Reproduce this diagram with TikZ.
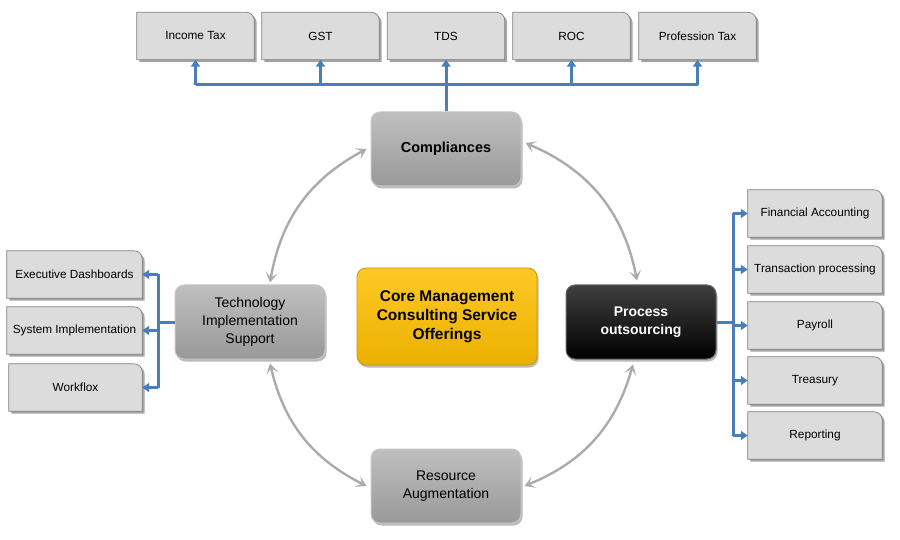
\documentclass[tikz,border=0pt]{standalone}
\usepackage{fontspec}
\setmainfont{Liberation Sans}
\usetikzlibrary{arrows.meta,shadows,backgrounds,calc}
\definecolor{bluel}{HTML}{4A7EBB}
\definecolor{tabfill}{HTML}{DCDCDC}
\definecolor{tabedge}{HTML}{808080}
\definecolor{arcgray}{HTML}{ABABAB}
\definecolor{gold}{HTML}{FFC000}
\newcommand{\tabbox}[5]{%
  \node[tab, minimum width=#4] (#1) at (#2,-#3) {#5};
  \begin{scope}[on background layer]
    \draw[tabshape] (#1.south west) -- (#1.north west) -- ([xshift=-8pt]#1.north east)
      arc[start angle=90,end angle=0,radius=8pt] -- (#1.south east) -- cycle;
  \end{scope}}
\begin{document}
\begin{tikzpicture}[x=1pt,y=1pt,
  tab/.style={minimum height=47pt, inner sep=2pt, font=\fontsize{11.8}{13}\selectfont},
  tabshape/.style={fill=tabfill, draw=tabedge, line width=0.7pt,
    drop shadow={shadow xshift=2.5pt, shadow yshift=-2.5pt, opacity=0.7, fill=black!50}},
  mainbox/.style={rounded corners=9pt, minimum width=150pt, minimum height=74pt, align=center,
    drop shadow={shadow xshift=1.5pt, shadow yshift=-2.5pt, opacity=0.45, fill=black!60}},
  graybox/.style={mainbox, top color=black!25, bottom color=black!40, draw=black!22, line width=1pt},
  bluearrow/.style={draw=bluel, line width=3pt, -{Triangle[length=7pt,width=9pt]}},
  blueline/.style={draw=bluel, line width=3pt},
  cyc/.style={draw=arcgray, line width=2.4pt,
    {Stealth[length=10pt,width=12pt,inset=5pt]}-{Stealth[length=10pt,width=12pt,inset=5pt]}}
]
\useasboundingbox (0,0) rectangle (900,-540);

% top boxes
\tabbox{inc}{195.5}{36}{117pt}{Income Tax}
\tabbox{gst}{320.5}{36}{117pt}{GST}
\tabbox{tds}{446}{36}{117pt}{TDS}
\tabbox{roc}{571.5}{36}{117pt}{ROC}
\tabbox{prof}{697.5}{36}{117pt}{Profession Tax}

% left boxes
\tabbox{exec}{74.5}{274.5}{135pt}{Executive Dashboards}
\tabbox{sys}{74.5}{330.5}{135pt}{System Implementation}
\tabbox{work}{75.5}{387.5}{133pt}{Workflox}

% right boxes
\tabbox{fin}{815}{213.5}{134pt}{Financial Accounting}
\tabbox{trans}{815}{269.5}{134pt}{Transaction processing}
\tabbox{pay}{815}{325.5}{134pt}{Payroll}
\tabbox{treas}{815}{380.5}{134pt}{Treasury}
\tabbox{rep}{815}{435.5}{134pt}{Reporting}

% main nodes
\node[graybox, font=\fontsize{14.5}{17}\bfseries] (comp) at (446,-149) {Compliances};
\node[graybox, font=\fontsize{14}{18}\selectfont] (tech) at (250,-322) {Technology\\Implementation\\Support};
\node[graybox, font=\fontsize{14}{18}\selectfont] (res) at (446,-486) {Resource\\Augmentation};
\node[mainbox, minimum width=180pt, minimum height=97pt, top color=gold!85!white, bottom color=gold!92!black,
      draw=gold!80!black, line width=0.8pt, font=\fontsize{15.5}{19}\bfseries] (core) at (447,-316.5)
      {Core Management\\Consulting Service\\Offerings};
\node[mainbox, top color=black!75, bottom color=black, draw=black!60, line width=1pt, text=white,
      font=\fontsize{14}{18}\bfseries] (proc) at (641,-322) {Process\\outsourcing};

% blue connectors: top
\coordinate (tbus) at (0,-85);
\draw[blueline] (comp.north) -- (comp.north |- tbus);
\draw[blueline] (inc.south |- tbus) -- (prof.south |- tbus);
\foreach \n in {inc,gst,tds,roc,prof}{\draw[bluearrow] (\n.south |- tbus) -- (\n.south);}

% left
\coordinate (lbus) at (158,0);
\draw[blueline] (tech.west) -- (tech.west -| lbus);
\draw[blueline] (exec.east -| lbus) -- (work.east -| lbus);
\foreach \n in {exec,sys,work}{\draw[bluearrow] (\n.east -| lbus) -- (\n.east);}

% right
\coordinate (rbus) at (733,0);
\draw[blueline] (proc.east) -- (proc.east -| rbus);
\draw[blueline] (fin.west -| rbus) -- (rep.west -| rbus);
\foreach \n in {fin,trans,pay,treas,rep}{\draw[bluearrow] (\n.west -| rbus) -- (\n.west);}

% gray cycle arrows
\draw[cyc] ([xshift=-4pt]comp.west) to[bend right=26] ([xshift=20pt, yshift=2pt]tech.north);
\draw[cyc] ([shift={(4pt,6pt)}]comp.east) to[bend left=28] ([shift={(-4pt,4pt)}]proc.north);
\draw[cyc] ([shift={(-8pt,-5pt)}]proc.south) to[bend left=26] ([xshift=3pt]res.east);
\draw[cyc] ([xshift=-4pt]res.west) to[bend left=25] ([shift={(20pt,-4pt)}]tech.south);
\end{tikzpicture}
\end{document}
